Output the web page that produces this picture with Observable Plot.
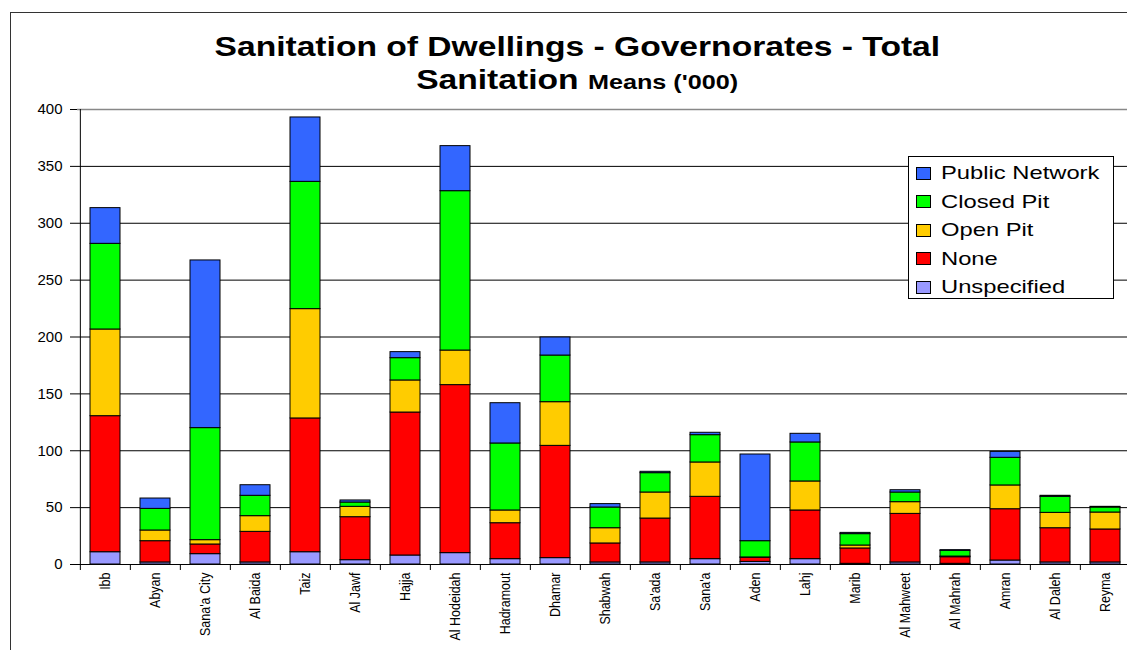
<!DOCTYPE html>
<html>
<head>
<meta charset="utf-8">
<script src="https://cdn.jsdelivr.net/npm/d3@7"></script>
<script src="https://cdn.jsdelivr.net/npm/@observablehq/plot@0.6"></script>
<style>
  html, body { margin: 0; padding: 0; background: #fff; overflow: hidden; }
  #page { position: relative; width: 1127px; height: 650px; overflow: hidden; font-family: "Liberation Sans", Arial, sans-serif; }
  #frame { position: absolute; left: 10px; top: 12px; width: 1300px; height: 800px; border-left: 1px solid #333; border-top: 1px solid #333; box-sizing: border-box; pointer-events: none; }
  #title { position: relative; height: 100px; }
  .tline { position: absolute; left: 0; width: 1155px; text-align: center; font-weight: bold; line-height: 1; white-space: nowrap; }
  .tline span.inner { display: inline-block; transform: scaleX(1.2); transform-origin: center; }
  #chart { width: 1140px; }
  #chart svg { max-width: none !important; }
  #legend { position: absolute; left: 908px; top: 156px; width: 206px; height: 143px; border: 1px solid #000; background: #fff; box-sizing: border-box; }
  .item { position: absolute; left: 7px; height: 20px; display: flex; align-items: center; font-size: 19px; white-space: nowrap; }
  .sw { width: 13px; height: 11px; border: 1px solid #000; margin-right: 10px; flex: none; }
  .lbl { display: inline-block; transform: scaleX(1.25); transform-origin: left center; }
</style>
</head>
<body>
<div id="page">
  <div id="title">
    <div class="tline" style="top:33px;font-size:28px;"><span class="inner">Sanitation of Dwellings - Governorates - Total</span></div>
    <div class="tline" style="top:66px;font-size:28px;"><span class="inner">Sanitation <span style="font-size:21px;">Means ('000)</span></span></div>
  </div>
  <div id="chart"></div>
  <div id="frame"></div>
  <div id="legend"></div>
</div>
<script>
// ---- data ----
const governorates = ["Ibb", "Abyan", "Sana'a City", "Al Baida", "Taiz", "Al Jawf", "Hajja", "Al Hodeidah", "Hadramout", "Dhamar", "Shabwah", "Sa'ada", "Sana'a", "Aden", "Lahj", "Marib", "Al Mahweet", "Al Mahrah", "Amran", "Al Daleh", "Reyma"];
const seriesNames = ["Public Network", "Closed Pit", "Open Pit", "None", "Unspecified"];
const seriesColors = ["#3366FF", "#00FF00", "#FFCC00", "#FF0000", "#9999FF"];
const unspecified  = [10.8, 1.8, 9.1, 1.8, 10.8, 3.8, 7.9, 10.0, 4.7, 5.6, 1.8, 1.8, 4.7, 2.3, 4.7, 0.6, 1.8, 0.6, 3.5, 1.8, 1.8];
const none         = [119.6, 18.7, 8.5, 26.9, 117.6, 37.8, 125.7, 147.7, 31.6, 98.7, 16.7, 38.6, 54.8, 3.6, 42.8, 13.5, 42.7, 5.8, 45.1, 30.1, 29.0];
const openPit      = [76.2, 9.4, 3.8, 13.8, 96.1, 9.1, 28.2, 30.4, 11.2, 38.4, 13.4, 22.9, 30.2, 0.3, 25.5, 2.6, 10.3, 0.6, 20.9, 13.5, 14.9];
const closedPit    = [75.3, 19.0, 98.5, 17.9, 111.9, 3.8, 19.6, 140.1, 58.9, 41.0, 18.2, 17.0, 24.0, 14.3, 34.3, 10.0, 8.5, 5.0, 24.3, 14.1, 4.4];
const publicNet    = [31.4, 9.1, 147.4, 9.3, 56.6, 1.8, 5.3, 39.6, 35.4, 15.9, 3.0, 1.2, 2.1, 76.2, 7.6, 1.1, 2.0, 0.6, 5.2, 0.9, 0.6];
const yTicks = [0, 50, 100, 150, 200, 250, 300, 350, 400];

// long table, bottom-to-top stacking order
const stackOrder = [["Unspecified", unspecified], ["None", none], ["Open Pit", openPit], ["Closed Pit", closedPit], ["Public Network", publicNet]];
const rows = [];
governorates.forEach((g, i) => {
  stackOrder.forEach(([name, arr]) => rows.push({gov: g, series: name, value: arr[i]}));
});

const W = 1140, mL = 77, mR = 7;
const step = (W - mL - mR) / governorates.length;

const chart = Plot.plot({
  width: W, height: 550,
  marginTop: 9, marginBottom: 86, marginLeft: mL, marginRight: mR,
  style: {fontFamily: "'Liberation Sans', Arial, sans-serif", background: "transparent", color: "#000", overflow: "visible", maxWidth: "none"},
  x: {domain: governorates, paddingInner: 0.4, paddingOuter: 0.2, label: null},
  y: {domain: [0, 400], label: null},
  color: {domain: seriesNames, range: seriesColors},
  marks: [
    Plot.gridY(yTicks.filter(d => d < 400), {stroke: "#000", strokeOpacity: 1, strokeWidth: 1}),
    Plot.gridY(yTicks.filter(d => d === 400), {stroke: "#888", strokeOpacity: 1, strokeWidth: 1.5}),
    Plot.barY(rows, {x: "gov", y: "value", fill: "series", stroke: "#000", strokeWidth: 1}),
    Plot.ruleX([governorates[0]], {dx: -step / 2, y1: 0, y2: 400, stroke: "#000"}),
    Plot.axisY(yTicks, {tickSize: 7, tickPadding: 8, fontSize: 15, label: null, stroke: "#000"}),
    Plot.axisX({tickSize: 6, dx: -step / 2, tickFormat: () => "", label: null, stroke: "#000"}),
    Plot.axisX({tickSize: 0, tickPadding: 8, tickRotate: -90, fontSize: 12.5, label: null})
  ]
});
chart.style.maxWidth = "none";
document.getElementById("chart").appendChild(chart);

// mimic the horizontally stretched rendering of the original labels
chart.querySelectorAll('g[aria-label="x-axis tick label"] text').forEach(t => {
  const tr = t.getAttribute("transform") || "";
  t.setAttribute("transform", tr + " scale(1,1.2)");
});

// legend built from the chart's color scale
const color = chart.scale("color");
const legend = document.getElementById("legend");
color.domain.forEach((name, i) => {
  const item = document.createElement("div");
  item.className = "item";
  item.style.top = (6 + i * 28.5) + "px";
  const sw = document.createElement("div");
  sw.className = "sw";
  sw.style.background = color.range[i];
  const lbl = document.createElement("span");
  lbl.className = "lbl";
  lbl.textContent = name;
  item.appendChild(sw);
  item.appendChild(lbl);
  legend.appendChild(item);
});
</script>
</body>
</html>
